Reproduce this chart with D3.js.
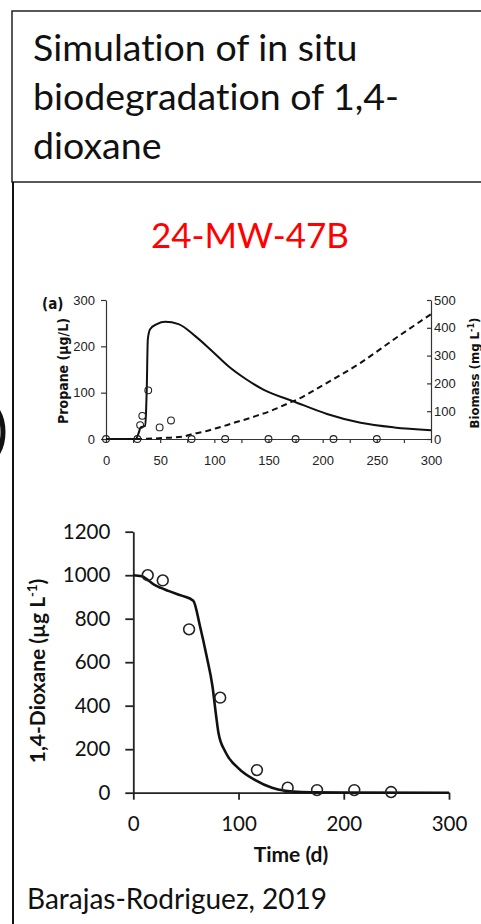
<!DOCTYPE html>
<html>
<head>
<meta charset="utf-8">
<script src="https://cdnjs.cloudflare.com/ajax/libs/d3/7.8.5/d3.min.js"></script>
<style>
  body { margin: 0; background: #fff; }
  svg { display: block; }
  text { font-variant-ligatures: none; }
  .narrow { font-family: "Liberation Sans Narrow", "DejaVu Sans Condensed", Lato, sans-serif; }
  .ui { font-family: Lato, "Open Sans", sans-serif; }
</style>
</head>
<body>
<div id="chart"></div>
<script>
// panel text
const titleLines = ["Simulation of in situ", "biodegradation of 1,4-", "dioxane"];
const wellName = "24-MW-47B";
const source = "Barajas-Rodriguez, 2019";

// (a) propane + biomass
const propaneTicks = [0, 100, 200, 300];
const biomassTicks = [0, 100, 200, 300, 400, 500];
const timeTicksA = [0, 25, 50, 75, 100, 125, 150, 175, 200, 225, 250, 275, 300];

const propaneModel = [
  [0, 0], [27.5, 0], [30, 12], [32, 25], [36, 28], [37, 60], [37.6, 106], [38.6, 215],
  [40.7, 237], [47, 248], [54.6, 253], [67, 248], [82.4, 222], [97.8, 190], [113, 157],
  [128.7, 130], [145.7, 106], [173.4, 81], [204, 54], [235, 35], [266, 25], [300, 19]
];
const biomassModel = [
  [0, 0], [30, 0], [45, 2], [55, 4], [70.3, 8], [79.5, 18], [90.3, 26], [101, 38],
  [110, 48], [119.5, 60], [130, 72], [139.4, 84], [150, 98], [159.3, 113], [168.6, 129],
  [179.3, 147], [186.3, 162], [204, 202], [235, 274], [266, 359], [300, 449]
];
const propaneObs = [
  [0, 0], [29, 0], [31.5, 30], [33.5, 50], [39, 105], [49.5, 25], [60, 40],
  [79, 0], [110, 0], [150, 0], [175, 0], [210, 0], [250, 0]
];

// (b) 1,4-dioxane
const dioxaneTicks = [0, 200, 400, 600, 800, 1000, 1200];
const timeTicksB = [0, 100, 200, 300];
const dioxaneModel = [
  [0, 1000], [8, 995], [20.6, 954], [33.3, 928], [46, 906], [57, 883], [63.5, 763],
  [69.8, 625], [75.3, 487], [78.4, 365], [81, 273], [87.3, 189], [100, 112],
  [115.9, 58], [131.8, 23], [144.4, 9], [160, 3], [200, 1], [300, 0]
];
const dioxaneObs = [
  [13.7, 1000], [28, 976], [53, 751], [82.6, 437], [117.5, 104],
  [146.7, 23], [174.6, 12], [210, 12], [245, 3]
];

const W = 481, H = 924;
const svg = d3.select("#chart").append("svg")
  .attr("width", W).attr("height", H);

// frame: title box + left rule
svg.append("rect")
  .attr("x", 12).attr("y", 11).attr("width", 500).attr("height", 171)
  .attr("fill", "none").attr("stroke", "#222").attr("stroke-width", 1.5);
svg.append("line")
  .attr("x1", 13).attr("x2", 13).attr("y1", 182).attr("y2", H)
  .attr("stroke", "#111").attr("stroke-width", 2);
// piece of a clipped shape on the far left
svg.append("ellipse")
  .attr("cx", -14).attr("cy", 432).attr("rx", 17).attr("ry", 29)
  .attr("fill", "none").attr("stroke", "#111").attr("stroke-width", 5);

svg.append("g").attr("class", "ui")
  .selectAll("text").data(titleLines).enter().append("text")
  .attr("x", 33).attr("y", (d, i) => 61 + i * 49)
  .attr("font-size", 37.5).attr("fill", "#111")
  .text(d => d);

svg.append("text").attr("class", "ui")
  .attr("x", 250).attr("y", 248).attr("text-anchor", "middle")
  .attr("font-size", 35).attr("fill", "#f00")
  .text(wellName);

svg.append("text").attr("class", "ui")
  .attr("x", 27).attr("y", 909)
  .attr("font-size", 28).attr("fill", "#111")
  .text(source);

// ---------- chart (a)
const xA = d3.scaleLinear().domain([0, 300]).range([106, 431]);
const yA = d3.scaleLinear().domain([0, 300]).range([439, 300]);
const yA2 = d3.scaleLinear().domain([0, 500]).range([439, 300]);

const gA = svg.append("g").attr("class", "narrow");

gA.append("g").attr("transform", "translate(106,0)")
  .call(d3.axisLeft(yA).tickValues(propaneTicks).tickSize(5).tickPadding(6).tickSizeOuter(0));
gA.append("g").attr("transform", "translate(431,0)")
  .call(d3.axisRight(yA2).tickValues(biomassTicks).tickSize(-4).tickPadding(3).tickSizeOuter(0));
gA.append("g").attr("transform", "translate(0,439)")
  .call(d3.axisBottom(xA).tickValues(timeTicksA).tickSize(4).tickPadding(13).tickSizeOuter(0)
    .tickFormat(d => d % 50 === 0 ? d : ""));

gA.selectAll(".domain, .tick line").attr("stroke", "#333").attr("stroke-width", 1.2);
gA.selectAll(".tick text").attr("font-size", 13).attr("fill", "#222");

gA.append("path").datum(biomassModel)
  .attr("d", d3.line().x(d => xA(d[0])).y(d => yA2(d[1])).curve(d3.curveMonotoneX))
  .attr("fill", "none").attr("stroke", "#111").attr("stroke-width", 2)
  .attr("stroke-dasharray", "6,4");

gA.append("path").datum(propaneModel)
  .attr("d", d3.line().x(d => xA(d[0])).y(d => yA(d[1])).curve(d3.curveMonotoneX))
  .attr("fill", "none").attr("stroke", "#111").attr("stroke-width", 2);

gA.selectAll("circle.obs").data(propaneObs).enter().append("circle")
  .attr("class", "obs")
  .attr("cx", d => xA(d[0])).attr("cy", d => yA(d[1])).attr("r", 3.4)
  .attr("fill", "none").attr("stroke", "#222").attr("stroke-width", 1.1);

gA.append("text")
  .attr("x", 42).attr("y", 309).attr("font-size", 15).attr("font-weight", "bold")
  .attr("fill", "#111").text("(a)");

gA.append("text")
  .attr("transform", "translate(68,371) rotate(-90)")
  .attr("text-anchor", "middle").attr("font-size", 14).attr("font-weight", "bold")
  .attr("fill", "#111").text("Propane (µg/L)");

const bLab = gA.append("text")
  .attr("transform", "translate(479,373) rotate(-90)")
  .attr("text-anchor", "middle").attr("font-size", 13).attr("font-weight", "bold")
  .attr("fill", "#111");
bLab.append("tspan").text("Biomass (mg L");
bLab.append("tspan").attr("baseline-shift", "super").attr("font-size", 9).text("-1");
bLab.append("tspan").text(")");

// ---------- chart (b)
const xB = d3.scaleLinear().domain([0, 300]).range([133.3, 449]);
const yB = d3.scaleLinear().domain([0, 1200]).range([792.7, 531.7]);

const gB = svg.append("g").attr("class", "ui");

gB.append("g").attr("transform", "translate(133.3,0)")
  .call(d3.axisLeft(yB).tickValues(dioxaneTicks).tickFormat(d3.format("d"))
    .tickSize(8).tickPadding(15).tickSizeOuter(0));
gB.append("g").attr("transform", "translate(0,792.7)")
  .call(d3.axisBottom(xB).tickValues(timeTicksB).tickSize(7).tickPadding(17).tickSizeOuter(0));

gB.selectAll(".domain, .tick line").attr("stroke", "#222").attr("stroke-width", 1.8);
gB.selectAll(".tick text").attr("font-size", 20.5).attr("fill", "#111")
  .attr("font-family", "Lato, 'Open Sans', sans-serif");

gB.append("path").datum(dioxaneModel)
  .attr("d", d3.line().x(d => xB(d[0])).y(d => yB(d[1])).curve(d3.curveMonotoneX))
  .attr("fill", "none").attr("stroke", "#111").attr("stroke-width", 2.6);

gB.selectAll("circle.obs").data(dioxaneObs).enter().append("circle")
  .attr("class", "obs")
  .attr("cx", d => xB(d[0])).attr("cy", d => yB(d[1])).attr("r", 5.4)
  .attr("fill", "none").attr("stroke", "#222").attr("stroke-width", 1.6);

gB.append("text")
  .attr("x", 291).attr("y", 862).attr("text-anchor", "middle")
  .attr("font-size", 21).attr("font-weight", "bold").attr("fill", "#111")
  .text("Time (d)");

const yLab = gB.append("text")
  .attr("transform", "translate(45,671) rotate(-90)")
  .attr("text-anchor", "middle").attr("font-size", 21).attr("font-weight", "bold")
  .attr("fill", "#111");
yLab.append("tspan").text("1,4-Dioxane (µg L");
yLab.append("tspan").attr("baseline-shift", "super").attr("font-size", 13).text("-1");
yLab.append("tspan").text(")");
</script>
</body>
</html>
